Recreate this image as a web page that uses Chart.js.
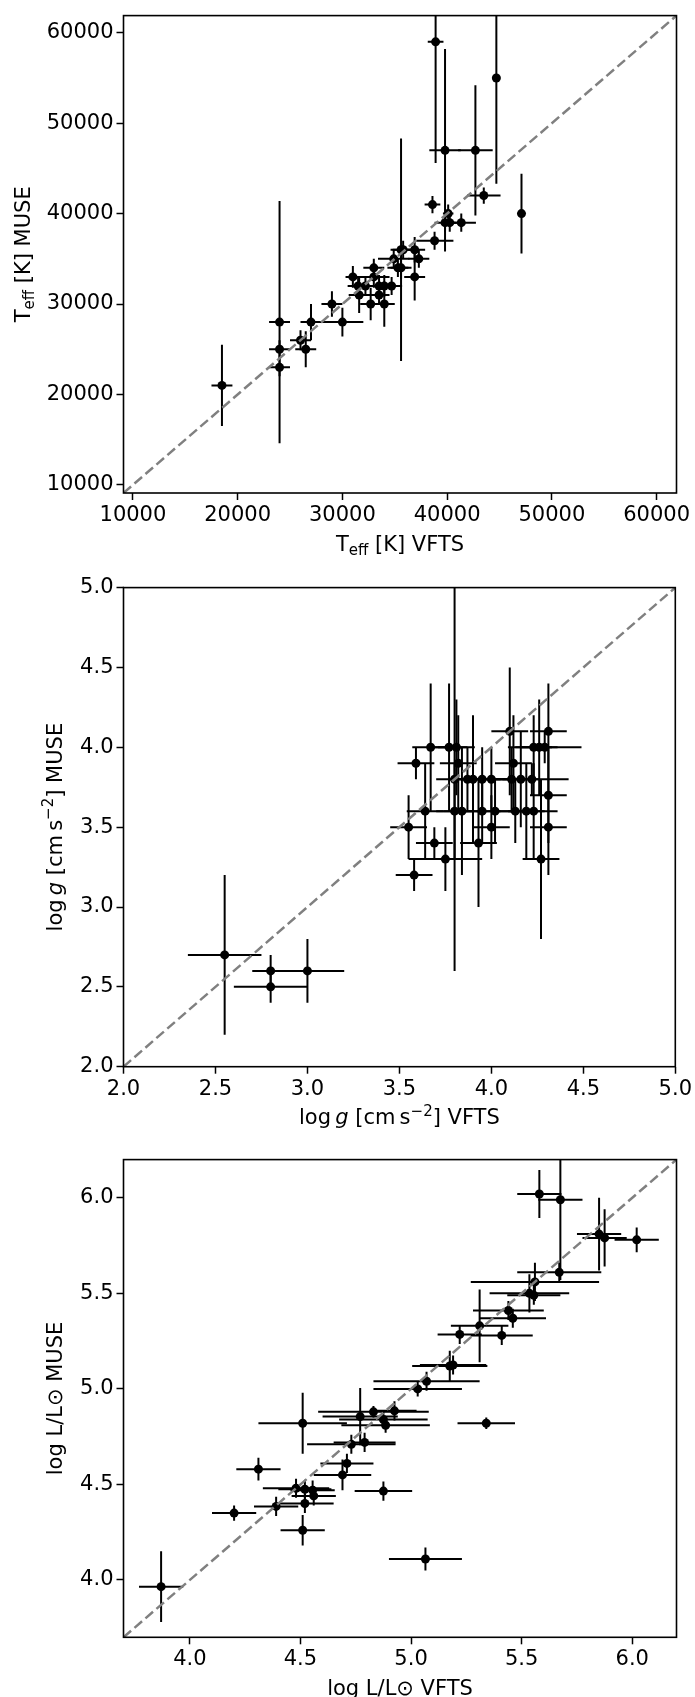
<!DOCTYPE html>
<html lang="en">
<head>
<meta charset="UTF-8">
<title>VFTS vs MUSE parameters</title>
<style>
    body {
        margin: 0;
        background: #fff;
    }
    canvas {
        display: block;
    }
</style>
</head>
<body>
<canvas id="teffChart" width="695" height="572"></canvas>
<canvas id="loggChart" width="695" height="572"></canvas>
<canvas id="lumChart" width="695" height="553"></canvas>

<script src="https://cdn.jsdelivr.net/npm/chart.js"></script>
<script>

// --- Teff panel (K) ---
const teffVfts = [18500, 24000, 24000, 24000, 26000, 26500, 27000, 29000, 30000, 31000, 31500, 31600, 32200, 32700, 33000, 33000, 33500, 33500, 34000, 34000, 34700, 34900, 35300, 35600, 35800, 35600, 36900, 37300, 36900, 38900, 39800, 42700, 44700, 38600, 43500, 40100, 39800, 40250, 41350, 47100, 38800];
const teffMuse = [21000, 28000, 25000, 23000, 26000, 25000, 28000, 30000, 28000, 33000, 32000, 31000, 32000, 30000, 34000, 33000, 32000, 31000, 32000, 30000, 32000, 35000, 34000, 36000, 36000, 34000, 36000, 35000, 33000, 59000, 47000, 47000, 55000, 41000, 42000, 40000, 39000, 39000, 39000, 40000, 37000];
const teffVftsErr = [1000, 1000, 1000, 1000, 1000, 1000, 1000, 1000, 2000, 700, 1000, 1000, 1000, 1000, 1000, 1500, 1000, 1000, 1000, 1000, 1000, 1500, 1000, 1000, 1000, 1000, 1000, 1000, 1000, 750, 1500, 1650, 300, 750, 1600, 500, 1000, 800, 1400, 300, 1800];
const teffMuseErr = [4500, 13400, 1000, 1000, 1100, 2000, 2000, 1400, 1600, 1200, 1000, 2000, 1000, 1800, 1000, 1200, 1200, 1000, 1200, 2500, 1000, 1000, 1000, 12300, 1000, 1200, 1400, 1000, 2600, 13400, 11200, 7200, 11700, 950, 900, 1000, 1000, 1000, 1000, 4400, 1000];
const teffTicks = [10000, 20000, 30000, 40000, 50000, 60000];

// --- log g panel (cm s^-2) ---
const loggVfts = [2.55, 2.80, 3.00, 2.80, 3.55, 3.69, 3.75, 3.58, 3.59, 3.67, 3.77, 3.81, 3.82, 3.80, 3.87, 3.90, 3.95, 4.00, 4.11, 4.16, 4.22, 4.10, 4.31, 4.23, 4.26, 4.29, 4.12, 4.31, 3.64, 3.80, 3.84, 3.95, 4.02, 4.13, 4.19, 4.23, 4.00, 4.31, 3.93, 4.27];
const loggMuse = [2.7, 2.6, 2.6, 2.5, 3.5, 3.4, 3.3, 3.2, 3.9, 4.0, 4.0, 4.0, 3.9, 3.8, 3.8, 3.8, 3.8, 3.8, 3.8, 3.8, 3.8, 4.1, 4.1, 4.0, 4.0, 4.0, 3.9, 3.7, 3.6, 3.6, 3.6, 3.6, 3.6, 3.6, 3.6, 3.6, 3.5, 3.5, 3.4, 3.3];
const loggVftsErr = [0.2, 0.1, 0.2, 0.2, 0.1, 0.1, 0.2, 0.1, 0.1, 0.1, 0.1, 0.1, 0.1, 0.1, 0.1, 0.1, 0.1, 0.1, 0.1, 0.1, 0.2, 0.1, 0.1, 0.1, 0.1, 0.2, 0.1, 0.1, 0.1, 0.1, 0.1, 0.1, 0.1, 0.1, 0.1, 0.13, 0.1, 0.1, 0.1, 0.1];
const loggMuseErr = [0.5, 0.1, 0.2, 0.1, 0.2, 0.1, 0.2, 0.1, 0.1, 0.4, 0.4, 0.3, 0.3, 1.2, 0.2, 0.4, 0.2, 0.2, 0.2, 0.3, 0.1, 0.4, 0.3, 0.2, 0.3, 0.1, 0.3, 0.3, 0.3, 0.3, 0.4, 0.2, 0.2, 0.2, 0.3, 0.3, 0.2, 0.3, 0.4, 0.5];
const loggTicks = [2.0, 2.5, 3.0, 3.5, 4.0, 4.5, 5.0];

// --- log L/Lsun panel ---
const lumVfts = [3.87, 4.20, 4.31, 4.39, 4.48, 4.52, 4.555, 4.56, 4.52, 4.51, 4.51, 4.69, 4.71, 4.73, 4.79, 4.77, 4.83, 4.875, 4.885, 4.925, 4.875, 5.03, 5.07, 5.175, 5.19, 5.22, 5.31, 5.41, 5.44, 5.46, 5.34, 5.065, 5.535, 5.555, 5.56, 5.67, 5.675, 5.58, 5.85, 5.875, 6.02];
const lumMuse = [3.965, 4.35, 4.58, 4.385, 4.48, 4.475, 4.47, 4.44, 4.40, 4.26, 4.82, 4.55, 4.61, 4.71, 4.72, 4.855, 4.88, 4.84, 4.81, 4.885, 4.465, 5.00, 5.04, 5.12, 5.125, 5.285, 5.33, 5.28, 5.41, 5.37, 4.82, 4.11, 5.50, 5.49, 5.56, 5.61, 5.99, 6.02, 5.81, 5.79, 5.78];
const lumVftsErr = [0.1, 0.1, 0.1, 0.1, 0.15, 0.12, 0.1, 0.1, 0.13, 0.1, 0.2, 0.13, 0.12, 0.2, 0.14, 0.17, 0.25, 0.2, 0.2, 0.1, 0.13, 0.2, 0.24, 0.17, 0.15, 0.1, 0.13, 0.14, 0.16, 0.15, 0.13, 0.165, 0.18, 0.12, 0.29, 0.19, 0.1, 0.1, 0.1, 0.1, 0.1];
const lumMuseErr = [0.185, 0.04, 0.06, 0.05, 0.05, 0.05, 0.05, 0.05, 0.05, 0.08, 0.16, 0.08, 0.05, 0.05, 0.05, 0.15, 0.03, 0.04, 0.04, 0.05, 0.05, 0.04, 0.05, 0.08, 0.05, 0.05, 0.19, 0.05, 0.05, 0.05, 0.03, 0.06, 0.1, 0.05, 0.1, 0.05, 0.42, 0.125, 0.19, 0.15, 0.065];
const lumTicks = [4.0, 4.5, 5.0, 5.5, 6.0];

// axis titles, as [text, style] pieces ('' normal, 'it' italic, 'sub', 'sup')
const teffXTitle = [['T', ''], ['eff', 'sub'], [' [K] VFTS', '']];
const teffYTitle = [['T', ''], ['eff', 'sub'], [' [K] MUSE', '']];
const loggXTitle = [['log\u2009', ''], ['g', 'it'], [' [cm\u2009s', ''], ['\u22122', 'sup'], ['] VFTS', '']];
const loggYTitle = [['log\u2009', ''], ['g', 'it'], [' [cm\u2009s', ''], ['\u22122', 'sup'], ['] MUSE', '']];
const lumXTitle = [['log L/L\u2299 VFTS', '']];
const lumYTitle = [['log L/L\u2299 MUSE', '']];

const FONT = '"DejaVu Sans", sans-serif';
const FONT_SIZE = 21;

function drawRich(ctx, pieces, cx, cy, rot) {
    const fontFor = (style) => {
        if (style === 'it') return `italic ${FONT_SIZE}px ${FONT}`;
        if (style === 'sub' || style === 'sup') return `${Math.round(FONT_SIZE * 0.7)}px ${FONT}`;
        return `${FONT_SIZE}px ${FONT}`;
    };
    let total = 0;
    pieces.forEach(([t, s]) => {
        ctx.font = fontFor(s);
        total += ctx.measureText(t).width;
    });
    ctx.save();
    ctx.translate(cx, cy);
    ctx.rotate(rot);
    ctx.fillStyle = '#000';
    ctx.textBaseline = 'alphabetic';
    ctx.textAlign = 'left';
    const base = FONT_SIZE * 0.36;
    let x = -total / 2;
    pieces.forEach(([t, s]) => {
        ctx.font = fontFor(s);
        let y = base;
        if (s === 'sub') y += FONT_SIZE * 0.22;
        if (s === 'sup') y -= FONT_SIZE * 0.4;
        ctx.fillText(t, x, y);
        x += ctx.measureText(t).width;
    });
    ctx.restore();
}

// error bars drawn just before the scatter markers
const errorBars = {
    id: 'errorBars',
    beforeDatasetDraw(chart, args) {
        if (args.index !== 1) return;
        const { ctx, chartArea: a } = chart;
        const xs = chart.scales.x, ys = chart.scales.y;
        ctx.save();
        ctx.beginPath();
        ctx.rect(a.left, a.top, a.right - a.left, a.bottom - a.top);
        ctx.clip();
        ctx.strokeStyle = '#000';
        ctx.lineWidth = 2;
        chart.data.datasets[1].data.forEach(p => {
            const px = xs.getPixelForValue(p.x), py = ys.getPixelForValue(p.y);
            ctx.beginPath();
            ctx.moveTo(xs.getPixelForValue(p.x - p.xe), py);
            ctx.lineTo(xs.getPixelForValue(p.x + p.xe), py);
            ctx.moveTo(px, ys.getPixelForValue(p.y - p.ye));
            ctx.lineTo(px, ys.getPixelForValue(p.y + p.ye));
            ctx.stroke();
        });
        ctx.restore();
    }
};

// box round the axes plus the axis titles
const frameTitles = {
    id: 'frameTitles',
    afterDraw(chart, args, opts) {
        const { ctx, chartArea: a } = chart;
        ctx.save();
        ctx.strokeStyle = '#000';
        ctx.lineWidth = 1.6;
        ctx.strokeRect(a.left, a.top, a.right - a.left, a.bottom - a.top);
        ctx.restore();
        drawRich(ctx, opts.xTitle, (a.left + a.right) / 2, a.bottom + 50, 0);
        drawRich(ctx, opts.yTitle, opts.yTitleX, (a.top + a.bottom) / 2, -Math.PI / 2);
    }
};

function axis(min, max, tickVals, fmt, fit) {
    return {
        type: 'linear',
        min: min,
        max: max,
        afterBuildTicks: s => { s.ticks = tickVals.map(v => ({ value: v })); },
        afterFit: fit,
        border: { display: false },
        grid: {
            drawOnChartArea: false,
            drawTicks: true,
            tickLength: 7,
            tickWidth: 1.5,
            tickColor: '#000'
        },
        ticks: {
            color: '#000',
            padding: 3,
            maxRotation: 0,
            autoSkip: false,
            font: { family: FONT, size: FONT_SIZE },
            callback: v => fmt(v)
        }
    };
}

function makePanel(id, p) {
    const pts = p.xs.map((x, i) => ({ x: x, y: p.ys[i], xe: p.xe[i], ye: p.ye[i] }));
    new Chart(document.getElementById(id), {
        type: 'scatter',
        data: {
            datasets: [{
                type: 'line',
                data: [{ x: p.min, y: p.min }, { x: p.max, y: p.max }],
                borderColor: '#808080',
                borderWidth: 2.5,
                borderDash: [10, 4.5],
                pointRadius: 0,
                fill: false
            }, {
                data: pts,
                backgroundColor: '#000',
                borderWidth: 0,
                pointRadius: 4.5,
                pointHoverRadius: 4.5
            }]
        },
        options: {
            responsive: false,
            animation: false,
            events: [],
            layout: { padding: { top: p.padTop, right: 18.5, left: 0, bottom: 0 } },
            scales: {
                x: axis(p.min, p.max, p.ticks, p.fmt, s => { s.height = p.xAxisH; }),
                y: axis(p.min, p.max, p.ticks, p.fmt, s => { s.width = 123.5; })
            },
            plugins: {
                legend: { display: false },
                tooltip: { enabled: false },
                frameTitles: { xTitle: p.xTitle, yTitle: p.yTitle, yTitleX: p.yTitleX }
            }
        },
        plugins: [errorBars, frameTitles]
    });
}

makePanel('teffChart', {
    xs: teffVfts, ys: teffMuse, xe: teffVftsErr, ye: teffMuseErr,
    min: 9100, max: 61900, ticks: teffTicks, fmt: v => String(v),
    padTop: 12, xAxisH: 79, yTitleX: 22,
    xTitle: teffXTitle, yTitle: teffYTitle
});

makePanel('loggChart', {
    xs: loggVfts, ys: loggMuse, xe: loggVftsErr, ye: loggMuseErr,
    min: 2.0, max: 5.0, ticks: loggTicks, fmt: v => v.toFixed(1),
    padTop: 13, xAxisH: 77.3, yTitleX: 54,
    xTitle: loggXTitle, yTitle: loggYTitle
});

makePanel('lumChart', {
    xs: lumVfts, ys: lumMuse, xe: lumVftsErr, ye: lumMuseErr,
    min: 3.7, max: 6.2, ticks: lumTicks, fmt: v => v.toFixed(1),
    padTop: 12, xAxisH: 59.7, yTitleX: 54,
    xTitle: lumXTitle, yTitle: lumYTitle
});

</script>
</body>
</html>
